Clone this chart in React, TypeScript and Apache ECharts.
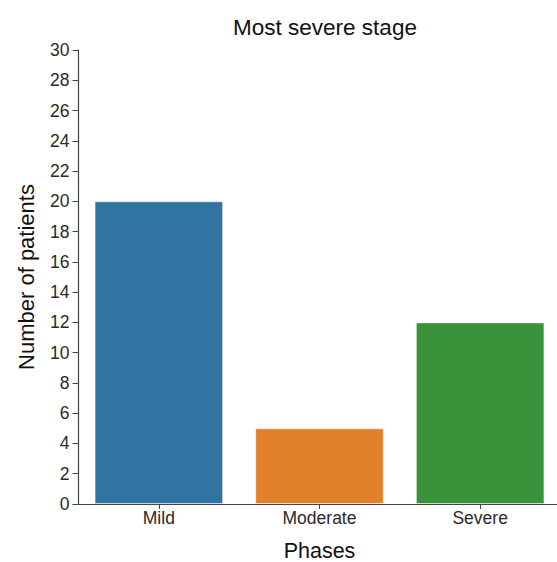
import React, { useEffect, useRef } from "react";
import * as echarts from "echarts";

const categories = ["Mild", "Moderate", "Severe"];
const patientCounts = [20, 5, 12];
const barColors = ["#3274a1", "#e1812c", "#3a923a"];

export default function App() {
  const ref = useRef<HTMLDivElement>(null);
  useEffect(() => {
    if (!ref.current) return;
    const chart = echarts.init(ref.current, undefined, { renderer: "svg" });
    const font = "Liberation Sans, Arial, sans-serif";
    chart.setOption({
      animation: false,
      backgroundColor: "#ffffff",
      title: {
        text: "Most severe stage",
        left: 320,
        top: 11,
        textAlign: "center",
        textStyle: { fontFamily: font, fontSize: 22.5, fontWeight: "normal", color: "#111" },
      },
      grid: {
        left: 78.5,
        top: 50,
        width: 482,
        height: 454,
        containLabel: false,
        outerBoundsMode: "none",
      },
      xAxis: {
        type: "category",
        data: categories,
        name: "Phases",
        nameLocation: "middle",
        nameGap: 36,
        nameTextStyle: { fontFamily: font, fontSize: 21.5, lineHeight: 21, color: "#111" },
        axisLine: { lineStyle: { color: "#444", width: 1.2 } },
        axisTick: { show: true, alignWithLabel: true, length: 5, lineStyle: { color: "#444" } },
        axisLabel: { fontFamily: font, fontSize: 17.5, color: "#2a2a2a", margin: 5 },
      },
      yAxis: {
        type: "value",
        min: 0,
        max: 30,
        interval: 2,
        name: "Number of patients",
        nameLocation: "middle",
        nameGap: 41.5,
        nameTextStyle: { fontFamily: font, fontSize: 22, color: "#111" },
        axisLine: { show: true, lineStyle: { color: "#444", width: 1.2 } },
        axisTick: { show: true, length: 6, lineStyle: { color: "#444" } },
        axisLabel: { fontFamily: font, fontSize: 17.5, color: "#2a2a2a", margin: 9 },
        splitLine: { show: false },
      },
      series: [
        {
          type: "bar",
          barWidth: "80%",
          data: patientCounts.map((v, i) => ({
            value: v,
            itemStyle: { color: barColors[i], borderColor: "rgba(255,255,255,0.45)", borderWidth: 1 },
          })),
        },
      ],
    });
    return () => chart.dispose();
  }, []);
  return (
    <div
      ref={ref}
      style={{ position: "fixed", left: 0, top: 0, width: 557, height: 562 }}
    />
  );
}
